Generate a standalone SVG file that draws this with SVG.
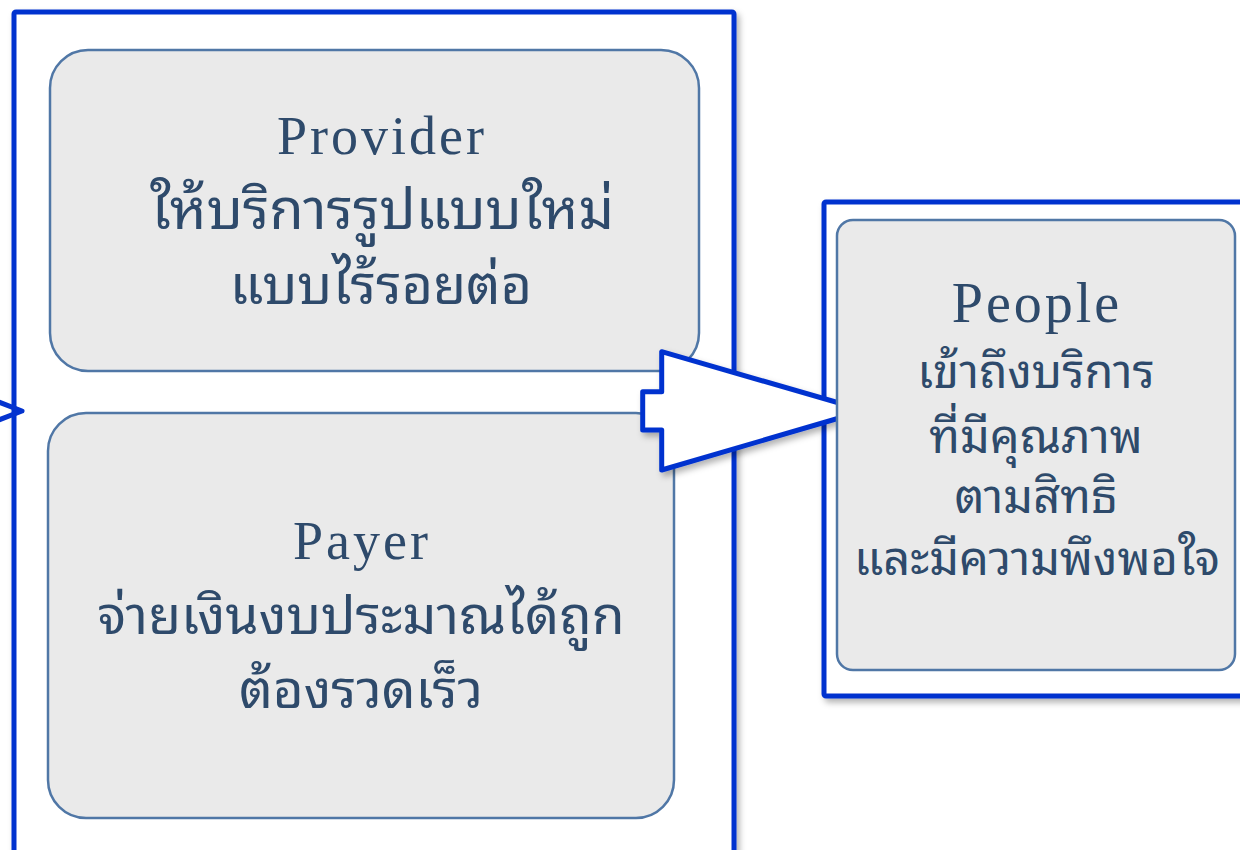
<svg xmlns="http://www.w3.org/2000/svg" width="1240" height="850" viewBox="0 0 1240 850">
<defs>
<filter id="sh" x="-10%" y="-10%" width="130%" height="130%">
<feDropShadow dx="3" dy="4" stdDeviation="3" flood-color="#000" flood-opacity="0.3"/>
</filter>
<style>
.frame{fill:#fff;stroke:#0433CF;stroke-width:5;filter:url(#sh)}
.box{fill:#EAEAEA;stroke:#5077A6;stroke-width:2.5}
.en{font-family:"Liberation Serif","DejaVu Serif",serif;fill:#2E4A6B;text-anchor:middle;letter-spacing:3px}
.th{font-family:"Noto Sans Thai Looped","Noto Serif Thai","Noto Sans Thai","Noto Sans","DejaVu Sans",sans-serif;fill:#2E4A6B;text-anchor:middle}
.conn{fill:none;stroke:#0433CF;stroke-width:5;stroke-linejoin:round;stroke-linecap:round}
</style>
</defs>
<rect width="1240" height="850" fill="#fff"/>
<g id="left-frame">
<rect class="frame" x="14" y="12" width="720" height="900" rx="2"/>
</g>
<g id="provider">
<rect class="box" x="50" y="50" width="649" height="321" rx="38"/>
<text class="en" x="382" y="154" font-size="54">Provider</text>
<text class="th" x="382" y="229" font-size="56">ให้บริการรูปแบบใหม่</text>
<text class="th" x="381" y="304" font-size="54">แบบไร้รอยต่อ</text>
</g>
<g id="payer">
<rect class="box" x="48" y="413" width="626" height="405" rx="38"/>
<text class="en" x="362" y="559" font-size="54">Payer</text>
<text class="th" x="361" y="634" font-size="53.5">จ่ายเงินงบประมาณได้ถูก</text>
<text class="th" x="361" y="708" font-size="53">ต้องรวดเร็ว</text>
</g>
<g id="right-frame">
<rect class="frame" x="824" y="202" width="500" height="494" rx="2"/>
</g>
<g id="connectors">
<polyline class="conn" points="-4,401 22,411 -4,421"/>
<polygon points="661.7,351.7 661.7,391.7 642.7,391.7 642.7,430 661.7,430 661.7,470 865,410.5" fill="#fff" stroke="#0433CF" stroke-width="5" stroke-linejoin="round" filter="url(#sh)"/>
</g>
<g id="people">
<rect class="box" x="837" y="220" width="398" height="450" rx="16"/>
<text class="en" x="1037" y="322" font-size="56">People</text>
<text class="th" x="1036" y="388" font-size="47">เข้าถึงบริการ</text>
<text class="th" x="1036" y="453" font-size="47">ที่มีคุณภาพ</text>
<text class="th" x="1036" y="513" font-size="47">ตามสิทธิ</text>
<text class="th" x="1037" y="575" font-size="47">และมีความพึงพอใจ</text>
</g>
</svg>
